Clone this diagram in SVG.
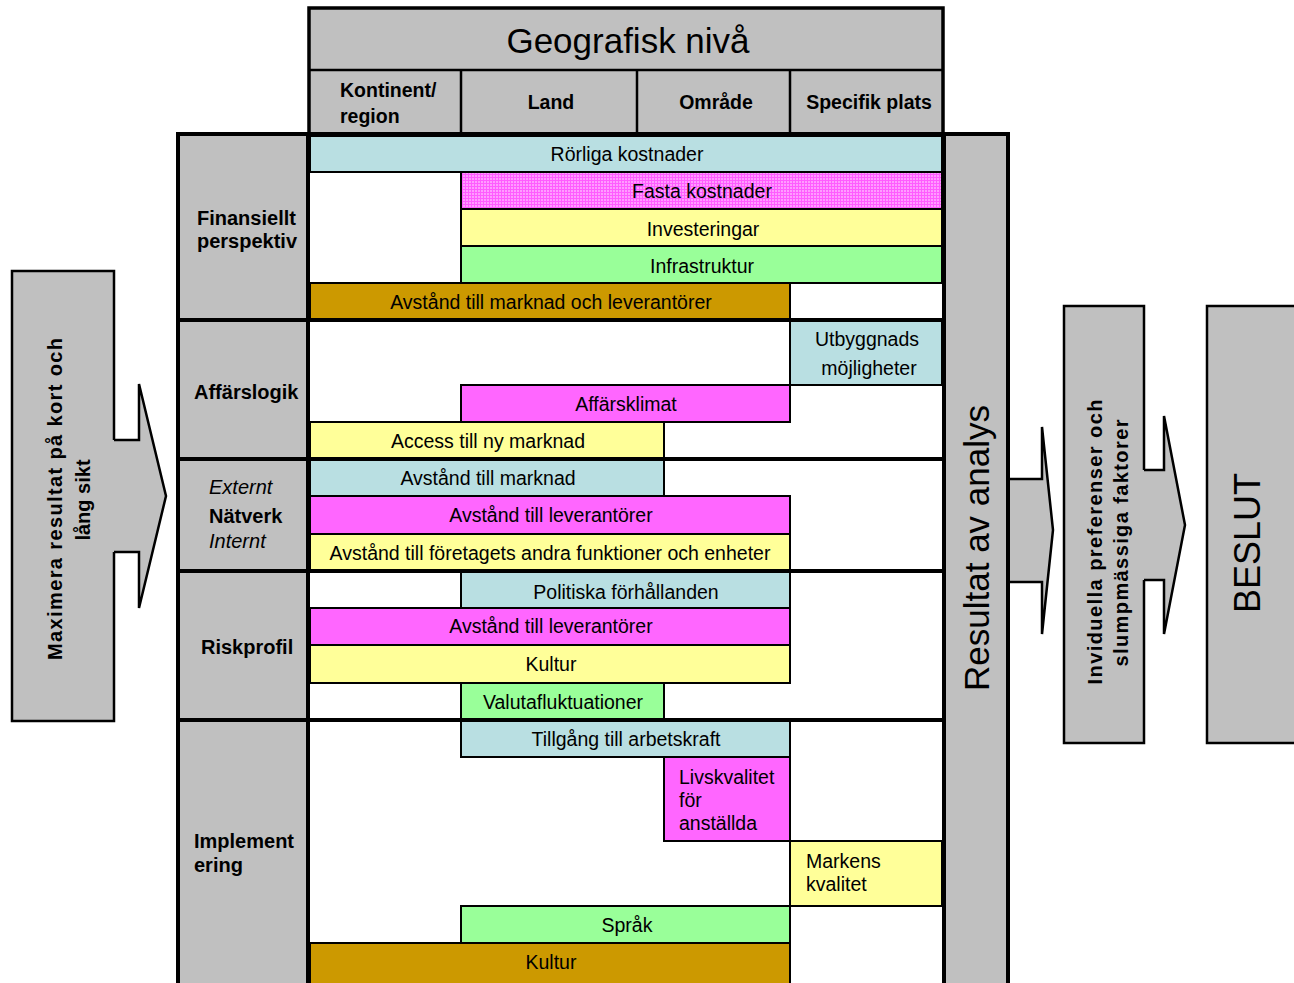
<svg xmlns="http://www.w3.org/2000/svg" width="1294" height="983" viewBox="0 0 1294 983">
  <style>
    text { font-family: "Liberation Sans", Arial, sans-serif; fill: #000; }
    .bar { stroke: #000; stroke-width: 2; }
    .blue { fill: #B9DFE2; }
    .pink { fill: #FF66FF; }
    .yel { fill: #FFFF99; }
    .grn { fill: #99FF99; }
    .gold { fill: #CC9900; }
    .gray { fill: #C0C0C0; }
    .t { font-size: 19.5px; text-anchor: middle; }
    .tl { font-size: 19.5px; }
    .lab { font-size: 20px; font-weight: bold; }
    .it { font-size: 20px; font-style: italic; }
    .hd { font-size: 19.5px; font-weight: bold; }
    .frame { stroke: #000; stroke-width: 4; fill: none; }
    .thin { stroke: #000; stroke-width: 2.5; fill: none; }
    .arrow-fill { fill: #C0C0C0; stroke: none; }
    .arrow-line { fill: none; stroke: #000; stroke-width: 2.5; stroke-linejoin: miter; }
  </style>
  <defs>
    <!-- fine pink grid fill used for the fixed-cost bar -->
    <pattern id="pinkGrid" width="3" height="3" patternUnits="userSpaceOnUse">
      <rect width="3" height="3" fill="#FF9CFF"/>
      <rect width="3" height="1" fill="#FF5CFF"/>
      <rect width="1" height="3" fill="#FF5CFF"/>
    </pattern>
  </defs>

  <rect width="1294" height="983" fill="#FFFFFF"/>

  <!-- left goal box with its arrow -->
  <g id="goal">
    <rect x="12" y="271" width="102" height="450" class="gray" stroke="#000" stroke-width="2.5"/>
  </g>

  <!-- geographic level header -->
  <g id="header">
    <rect x="309" y="8" width="634" height="126" class="gray"/>
    <line x1="309" y1="70" x2="943" y2="70" class="thin"/>
    <line x1="461" y1="70" x2="461" y2="134" class="thin"/>
    <line x1="637" y1="70" x2="637" y2="134" class="thin"/>
    <line x1="790" y1="70" x2="790" y2="134" class="thin"/>
    <rect x="309" y="8" width="634" height="126" fill="none" stroke="#000" stroke-width="3.5"/>
    <text x="628" y="53" font-size="35" text-anchor="middle">Geografisk nivå</text>
    <text x="340" y="97" class="hd">Kontinent/</text>
    <text x="340" y="123" class="hd">region</text>
    <text x="551" y="109" class="hd" text-anchor="middle">Land</text>
    <text x="716" y="109" class="hd" text-anchor="middle">Område</text>
    <text x="869" y="109" class="hd" text-anchor="middle">Specifik plats</text>
  </g>

  <!-- table body background -->
  <rect x="176" y="134" width="834" height="860" fill="#FFFFFF"/>
  <rect x="176" y="134" width="132" height="860" class="gray"/>
  <rect x="944" y="134" width="65" height="860" class="gray"/>

  <!-- Finansiellt perspektiv -->
  <g id="bar-rorliga">
    <rect x="310" y="136" width="632" height="36" class="bar blue"/>
    <text x="627" y="161" class="t">Rörliga kostnader</text>
  </g>
  <g id="bar-fasta">
    <rect x="461" y="172" width="481" height="37" class="bar" fill="url(#pinkGrid)"/>
    <text x="702" y="198" class="t">Fasta kostnader</text>
  </g>
  <g id="bar-investeringar">
    <rect x="461" y="209" width="481" height="37" class="bar yel"/>
    <text x="703" y="236" class="t">Investeringar</text>
  </g>
  <g id="bar-infrastruktur">
    <rect x="461" y="246" width="481" height="37" class="bar grn"/>
    <text x="702" y="273" class="t">Infrastruktur</text>
  </g>
  <g id="bar-avstand-marknad-lev">
    <rect x="310" y="283" width="480" height="37" class="bar gold"/>
    <text x="551" y="309" class="t">Avstånd till marknad och leverantörer</text>
  </g>

  <!-- Affärslogik -->
  <g id="bar-utbyggnad">
    <rect x="790" y="321" width="152" height="64" class="bar blue"/>
    <text x="867" y="346" class="t">Utbyggnads</text>
    <text x="869" y="375" class="t">möjligheter</text>
  </g>
  <g id="bar-affarsklimat">
    <rect x="461" y="385" width="329" height="37" class="bar pink"/>
    <text x="626" y="411" class="t">Affärsklimat</text>
  </g>
  <g id="bar-access">
    <rect x="310" y="422" width="354" height="37" class="bar yel"/>
    <text x="488" y="448" class="t">Access till ny marknad</text>
  </g>

  <!-- Nätverk -->
  <g id="bar-avstand-marknad">
    <rect x="310" y="459" width="354" height="37" class="bar blue"/>
    <text x="488" y="485" class="t">Avstånd till marknad</text>
  </g>
  <g id="bar-avstand-lev-1">
    <rect x="310" y="496" width="480" height="38" class="bar pink"/>
    <text x="551" y="522" class="t">Avstånd till leverantörer</text>
  </g>
  <g id="bar-avstand-foretag">
    <rect x="310" y="534" width="480" height="37" class="bar yel"/>
    <text x="550" y="560" class="t">Avstånd till företagets andra funktioner och enheter</text>
  </g>

  <!-- Riskprofil -->
  <g id="bar-politiska">
    <rect x="461" y="572" width="329" height="36" class="bar blue"/>
    <text x="626" y="599" class="t">Politiska förhållanden</text>
  </g>
  <g id="bar-avstand-lev-2">
    <rect x="310" y="608" width="480" height="37" class="bar pink"/>
    <text x="551" y="633" class="t">Avstånd till leverantörer</text>
  </g>
  <g id="bar-kultur-1">
    <rect x="310" y="645" width="480" height="38" class="bar yel"/>
    <text x="551" y="671" class="t">Kultur</text>
  </g>
  <g id="bar-valuta">
    <rect x="461" y="683" width="203" height="37" class="bar grn"/>
    <text x="563" y="709" class="t">Valutafluktuationer</text>
  </g>

  <!-- Implementering -->
  <g id="bar-tillgang">
    <rect x="461" y="721" width="329" height="36" class="bar blue"/>
    <text x="626" y="746" class="t">Tillgång till arbetskraft</text>
  </g>
  <g id="bar-livskvalitet">
    <rect x="664" y="757" width="126" height="84" class="bar pink"/>
    <text x="679" y="784" class="tl">Livskvalitet</text>
    <text x="679" y="807" class="tl">för</text>
    <text x="679" y="830" class="tl">anställda</text>
  </g>
  <g id="bar-markens">
    <rect x="790" y="841" width="152" height="65" class="bar yel"/>
    <text x="806" y="868" class="tl">Markens</text>
    <text x="806" y="891" class="tl">kvalitet</text>
  </g>
  <g id="bar-sprak">
    <rect x="461" y="906" width="329" height="37" class="bar grn"/>
    <text x="627" y="932" class="t">Språk</text>
  </g>
  <g id="bar-kultur-2">
    <rect x="310" y="943" width="480" height="50" class="bar gold"/>
    <text x="551" y="969" class="t">Kultur</text>
  </g>

  <!-- category labels -->
  <g id="cat-finansiellt">
    <text x="197" y="225" class="lab">Finansiellt</text>
    <text x="197" y="248" class="lab">perspektiv</text>
  </g>
  <g id="cat-affarslogik">
    <text x="194" y="399" class="lab">Affärslogik</text>
  </g>
  <g id="cat-natverk">
    <text x="209" y="494" class="it">Externt</text>
    <text x="209" y="523" class="lab">Nätverk</text>
    <text x="209" y="548" class="it">Internt</text>
  </g>
  <g id="cat-riskprofil">
    <text x="201" y="654" class="lab">Riskprofil</text>
  </g>
  <g id="cat-implementering">
    <text x="194" y="848" class="lab">Implement</text>
    <text x="194" y="872" class="lab">ering</text>
  </g>

  <!-- table frame and section rules -->
  <g id="table-frame">
    <line x1="176" y1="134" x2="1010" y2="134" class="frame"/>
    <line x1="178" y1="132" x2="178" y2="990" class="frame"/>
    <line x1="308" y1="132" x2="308" y2="990" class="frame"/>
    <line x1="944" y1="132" x2="944" y2="990" class="frame"/>
    <line x1="1008" y1="132" x2="1008" y2="990" class="frame"/>
    <line x1="176" y1="320" x2="944" y2="320" class="frame"/>
    <line x1="176" y1="459" x2="944" y2="459" class="frame"/>
    <line x1="176" y1="571" x2="944" y2="571" class="frame"/>
    <line x1="176" y1="720" x2="944" y2="720" class="frame"/>
  </g>

  <!-- result column -->
  <g id="resultat">
    <text transform="translate(989,548) rotate(-90)" font-size="35" text-anchor="middle">Resultat av analys</text>
  </g>

  <!-- preference box -->
  <g id="preferenser">
    <rect x="1064" y="306" width="80" height="437" class="gray" stroke="#000" stroke-width="2.5"/>
  </g>

  <!-- decision box -->
  <g id="beslut">
    <rect x="1207" y="306" width="100" height="437" class="gray" stroke="#000" stroke-width="2.5"/>
    <text transform="translate(1260,543) rotate(-90)" font-size="36" text-anchor="middle">BESLUT</text>
  </g>

  <!-- block arrows between stages -->
  <g id="connectors">
    <polygon class="arrow-fill" points="110,440 139,440 139,384 166,496 139,608 139,552 110,552"/>
    <polyline class="arrow-line" points="114,440 139,440 139,384 166,496 139,608 139,552 114,552"/>
    <polygon class="arrow-fill" points="1010,479 1042,479 1042,427 1053,530 1042,634 1042,582 1010,582"/>
    <polyline class="arrow-line" points="1010,479 1042,479 1042,427 1053,530 1042,634 1042,582 1010,582"/>
    <polygon class="arrow-fill" points="1140,470 1164,470 1164,416 1185,525 1164,634 1164,580 1140,580"/>
    <polyline class="arrow-line" points="1144,470 1164,470 1164,416 1185,525 1164,634 1164,580 1144,580"/>
  </g>

  <!-- rotated captions drawn above the arrows -->
  <g id="goal-text">
    <text transform="translate(62,499) rotate(-90)" font-size="20" font-weight="bold" text-anchor="middle" textLength="322" lengthAdjust="spacing">Maximera resultat på kort och</text>
    <text transform="translate(90,500) rotate(-90)" font-size="20" font-weight="bold" text-anchor="middle">lång sikt</text>
  </g>
  <g id="preferenser-text">
    <text transform="translate(1102,542) rotate(-90)" font-size="20" font-weight="bold" text-anchor="middle" textLength="285" lengthAdjust="spacing">Inviduella preferenser och</text>
    <text transform="translate(1128,543) rotate(-90)" font-size="20" font-weight="bold" text-anchor="middle" textLength="247" lengthAdjust="spacing">slumpmässiga faktorer</text>
  </g>
</svg>
